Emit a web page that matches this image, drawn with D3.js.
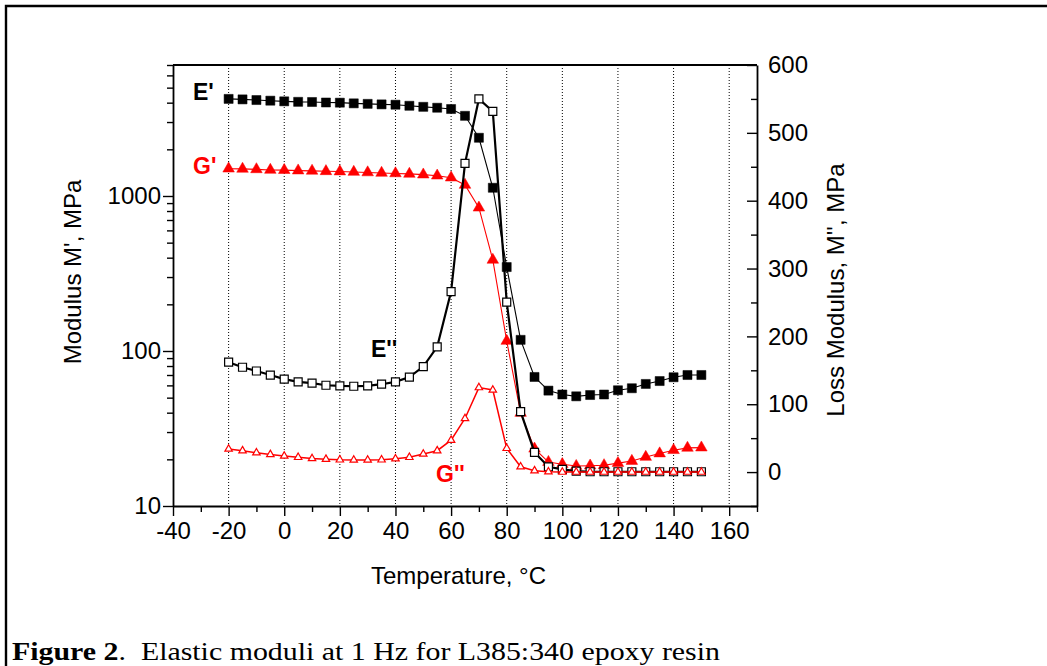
<!DOCTYPE html>
<html>
<head>
<meta charset="utf-8">
<script src="https://cdn.jsdelivr.net/npm/d3@7"></script>
<style>
  html, body { margin: 0; padding: 0; background: #fff; }
  svg { display: block; }
</style>
</head>
<body>
<svg id="chart" width="1047" height="666"></svg>
<script>
// ---- data ----
const temps = [-20, -15, -10, -5, 0, 5, 10, 15, 20, 25, 30, 35, 40, 45, 50, 55, 60, 65, 70, 75, 80, 85, 90, 95, 100, 105, 110, 115, 120, 125, 130, 135, 140, 145, 150];
const eStorage = [4230, 4200, 4160, 4120, 4080, 4050, 4040, 4010, 4000, 3960, 3930, 3900, 3880, 3820, 3760, 3710, 3640, 3290, 2375, 1130, 348, 118, 68, 55.5, 52.4, 51, 52, 52.4, 55.8, 57.5, 61.3, 64, 67.7, 70, 70];
const gStorage = [1500, 1495, 1485, 1472, 1468, 1458, 1452, 1443, 1438, 1428, 1418, 1408, 1398, 1388, 1373, 1352, 1313, 1178, 840, 387, 116, 39.8, 23.4, 19.2, 18.6, 18.1, 18.2, 18.3, 18.9, 19.5, 20.7, 21.8, 22.9, 23.7, 23.8];
const eLoss = [162, 154.5, 149, 143, 137, 133, 131, 128, 127, 126.5, 127, 129.5, 133, 140, 155.5, 184.6, 266, 455, 550, 531.5, 250.5, 89, 29, 7.8, 4, 1.5, 0.5, 0.5, 0.5, 0.5, 0.5, 0.5, 0.5, 0.5, 0.5];
const gLoss = [34, 31.5, 28.5, 26, 23.6, 21.7, 20, 19, 18, 17.7, 17.7, 18, 19.6, 21.7, 26.6, 31.5, 47, 79, 124.5, 121, 35, 7.8, 2, 0.5, 0, 0, 0, 0, 0, 0, 0, 0, 0, 0, 0];

const xTicks = [-40, -20, 0, 20, 40, 60, 80, 100, 120, 140, 160];
const xMinorTicks = [-30, -10, 10, 30, 50, 70, 90, 110, 130, 150, 170];
const gridTicks = [-20, 0, 20, 40, 60, 80, 100, 120, 140, 160];
const yLeftTicks = [10, 100, 1000];
const yLeftMinor = [20, 30, 40, 50, 60, 70, 80, 90, 200, 300, 400, 500, 600, 700, 800, 900, 2000, 3000, 4000, 5000, 6000, 7000];
const yRightTicks = [0, 100, 200, 300, 400, 500, 600];
const yRightMinor = [-50, 50, 150, 250, 350, 450, 550];

// ---- layout ----
const L = 173, R = 757, T = 65, B = 506;
const SANS = "'Liberation Sans', Arial, sans-serif";
const SERIF = "'Liberation Serif', 'Times New Roman', serif";
const svg = d3.select("#chart");

const x = d3.scaleLinear().domain([-40, 170]).range([L, R]);
const yL = d3.scaleLog().domain([10, 7000]).range([B, T]);
const yR = d3.scaleLinear().domain([-50, 600]).range([B, T]);

// outer frame (top and left)
svg.append("path").attr("d", `M6,666 V6 H1047`).attr("fill", "none").attr("stroke", "#000").attr("stroke-width", 2.4);

// gridlines
svg.append("g").selectAll("line").data(gridTicks).join("line")
  .attr("x1", d => x(d)).attr("x2", d => x(d)).attr("y1", T).attr("y2", B)
  .attr("stroke", "#000").attr("stroke-width", 1).attr("stroke-dasharray", "1,2");

function styleAxis(g) {
  g.selectAll("path").attr("stroke", "#000").attr("stroke-width", 1.8);
  g.selectAll("line").attr("stroke", "#000").attr("stroke-width", 1.4);
  g.selectAll("text").style("font-family", SANS).style("font-size", "24px").attr("fill", "#000");
}

// x axis
svg.append("g").attr("transform", `translate(0,${B})`)
  .call(d3.axisBottom(x).tickValues(xMinorTicks).tickSize(6).tickSizeOuter(0).tickFormat(""))
  .call(styleAxis).call(g => g.select("path").remove());
svg.append("g").attr("transform", `translate(0,${B})`)
  .call(d3.axisBottom(x).tickValues(xTicks).tickSize(10).tickPadding(6).tickSizeOuter(0).tickFormat(d3.format("d")))
  .call(styleAxis)
  .call(g => g.selectAll("text").text(d => String(d)));

// left axis
svg.append("g").attr("transform", `translate(${L},0)`)
  .call(d3.axisLeft(yL).tickValues(yLeftMinor).tickSize(6).tickSizeOuter(0).tickFormat(""))
  .call(styleAxis).call(g => g.select("path").remove());
svg.append("g").attr("transform", `translate(${L},0)`)
  .call(d3.axisLeft(yL).tickValues(yLeftTicks).tickSize(10).tickPadding(2).tickSizeOuter(0).tickFormat(d3.format("d")))
  .call(styleAxis);

// right axis (ticks inward)
svg.append("g").attr("transform", `translate(${R},0)`)
  .call(d3.axisRight(yR).tickValues(yRightMinor).tickSize(-6).tickSizeOuter(0).tickFormat(""))
  .call(styleAxis).call(g => g.select("path").remove());
svg.append("g").attr("transform", `translate(${R},0)`)
  .call(d3.axisRight(yR).tickValues(yRightTicks).tickSize(-10).tickPadding(11).tickSizeOuter(0).tickFormat(d3.format("d")))
  .call(styleAxis);

// top border
svg.append("line").attr("x1", L).attr("x2", R).attr("y1", T).attr("y2", T).attr("stroke", "#000").attr("stroke-width", 1.8);

// ---- series ----
function series(vals, yScale, color, lineW, symbol, size, filled) {
  const pts = temps.map((t, i) => [t, vals[i]]);
  const line = d3.line().x(d => x(d[0])).y(d => yScale(d[1]));
  svg.append("path").datum(pts).attr("d", line)
    .attr("fill", "none").attr("stroke", color).attr("stroke-width", lineW);
  svg.append("g").selectAll("path").data(pts).join("path")
    .attr("transform", d => `translate(${x(d[0])},${yScale(d[1])})`)
    .attr("d", d3.symbol().type(symbol).size(size)())
    .attr("fill", filled ? color : "#fff")
    .attr("stroke", color).attr("stroke-width", filled ? 0.5 : 1.2);
}

series(eStorage, yL, "#000", 1.1, d3.symbolSquare, 82, true);
series(gStorage, yL, "#ff0000", 1.1, d3.symbolTriangle, 58, true);
series(eLoss, yR, "#000", 2.2, d3.symbolSquare, 64, false);
series(gLoss, yR, "#ff0000", 1.5, d3.symbolTriangle, 24, false);

// ---- series labels ----
const labels = [
  { t: "E'", x: 193, y: 100, c: "#000" },
  { t: "G'", x: 193, y: 174, c: "#ff0000" },
  { t: "E''", x: 371, y: 357, c: "#000" },
  { t: "G''", x: 436, y: 482, c: "#ff0000" }
];
svg.append("g").selectAll("text").data(labels).join("text")
  .attr("x", d => d.x).attr("y", d => d.y).attr("fill", d => d.c)
  .style("font-family", SANS).style("font-size", "23px").style("font-weight", "bold").text(d => d.t);

// ---- axis titles ----
svg.append("text").attr("x", (L + 740) / 2 + 2).attr("y", 584).attr("text-anchor", "middle")
  .style("font-family", SANS).style("font-size", "24px").text("Temperature, \u00B0C");
svg.append("text").attr("transform", `translate(81,272) rotate(-90)`).attr("text-anchor", "middle")
  .style("font-family", SANS).style("font-size", "24px").text("Modulus M', MPa");
svg.append("text").attr("transform", `translate(844,290) rotate(-90)`).attr("text-anchor", "middle")
  .style("font-family", SANS).style("font-size", "24px").text("Loss Modulus, M'', MPa");

// ---- caption ----
const cap = svg.append("text").attr("x", 12).attr("y", 660)
  .attr("textLength", 708).attr("lengthAdjust", "spacingAndGlyphs")
  .style("font-family", SERIF).style("font-size", "26px")
  .style("white-space", "pre");
cap.append("tspan").style("font-weight", "bold").text("Figure 2");
cap.append("tspan").text(".  Elastic moduli at 1 Hz for L385:340 epoxy resin");
</script>
</body>
</html>
